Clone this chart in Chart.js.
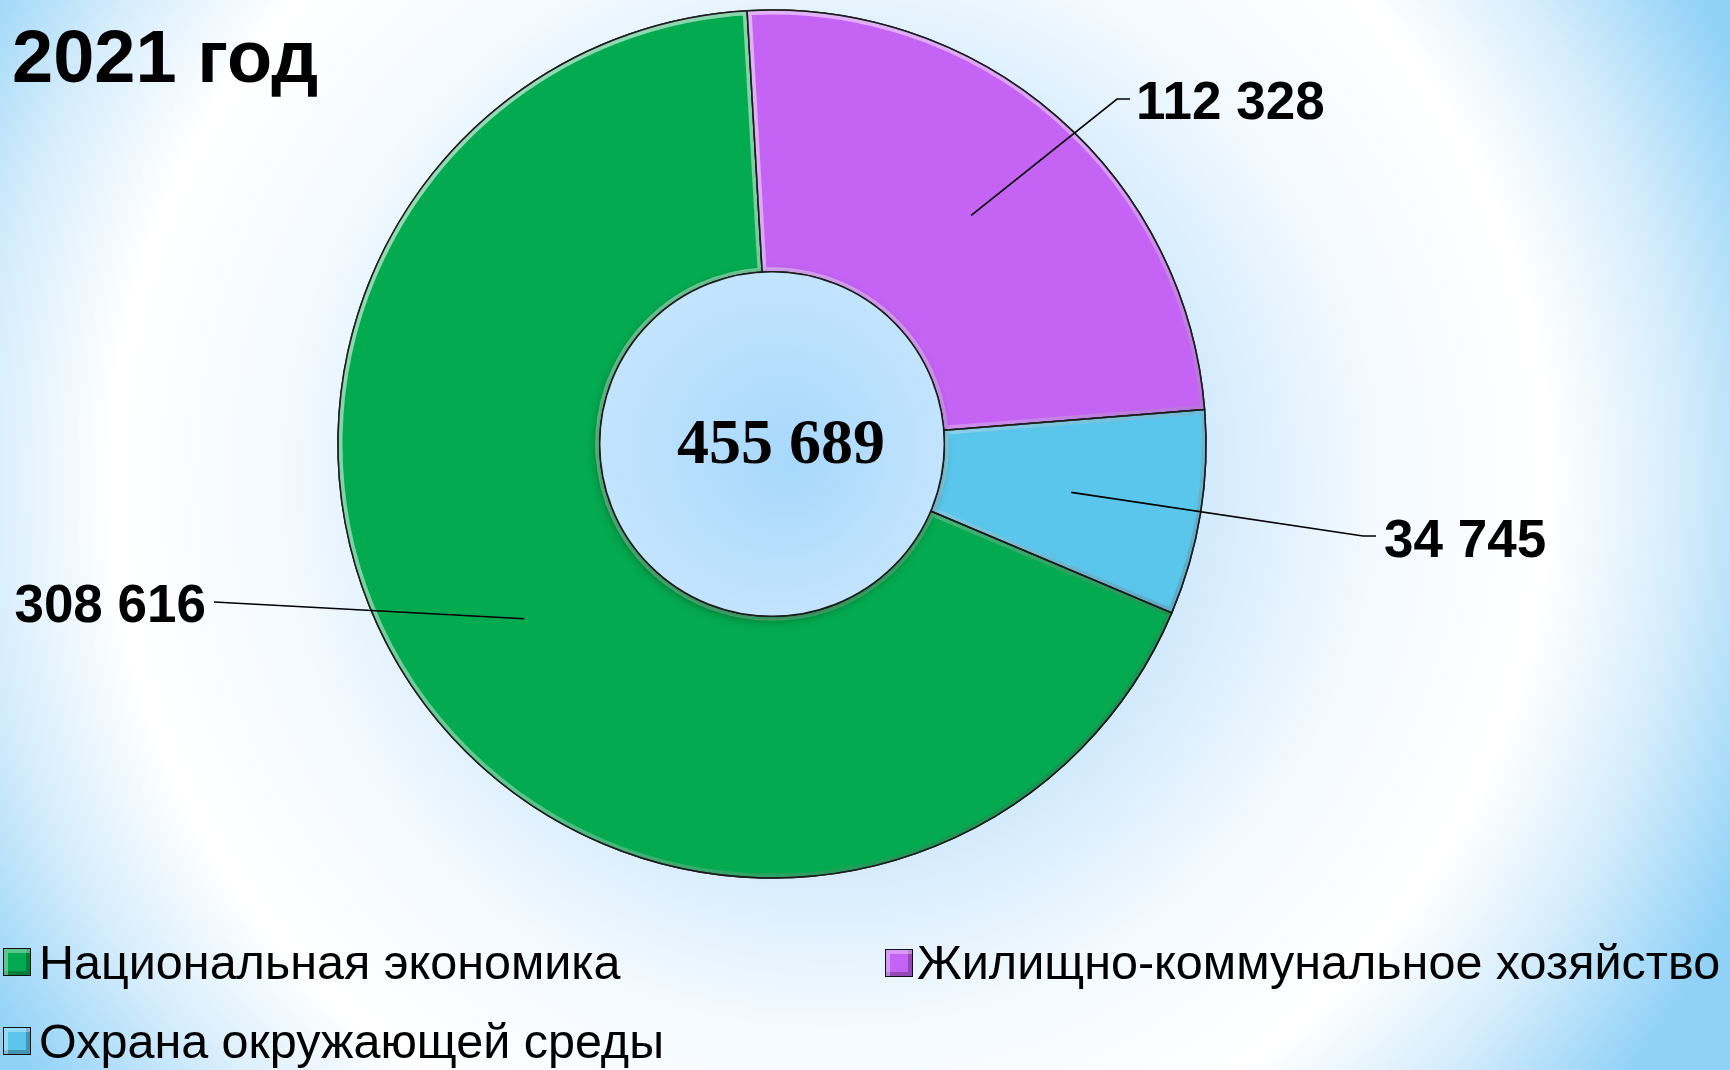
<!DOCTYPE html>
<html lang="ru">
<head>
<meta charset="utf-8">
<title>2021 год</title>
<script src="https://cdn.jsdelivr.net/npm/chart.js@4.4.1/dist/chart.umd.min.js"></script>
<style>
  html, body { margin: 0; padding: 0; }
  body {
    width: 1730px; height: 1070px; overflow: hidden; position: relative;
    font-family: "Liberation Sans", Arial, sans-serif;
    background: radial-gradient(circle 1000px at 830px 480px,
      #c6e3fa 0%, #d0e9fc 36%, #f4faff 55%, #ffffff 72%, #d6edfc 85%, #8fd1f7 100%);
  }
  #title {
    position: absolute; left: 12px; top: 20px;
    font-size: 74px; line-height: 74px; font-weight: bold; white-space: nowrap;
  }
  canvas { position: absolute; left: 0; top: 0; }
  .mark {
    position: absolute; width: 26px; height: 26px; border: 1px solid #111;
    box-shadow: inset 4px 4px 0 rgba(255,255,255,.35), inset -4px -4px 0 rgba(0,0,0,.25);
  }
  .txt { position: absolute; font-size: 48.5px; line-height: 48.5px; white-space: nowrap; }
</style>
</head>
<body>
<canvas id="donut" width="1730" height="1070"></canvas>
<div id="title">2021 год</div>
<div id="legend"></div>
<script>
// ── Data ────────────────────────────────────────────────
const categories = ['Национальная экономика', 'Жилищно-коммунальное хозяйство', 'Охрана окружающей среды'];
const values     = [308616, 112328, 34745];
const colors     = ['#03aa4f', '#c463f4', '#5bc6ec'];

// label / legend placement (layout only)
const labelAt = [
  { elbow: [214, 602], end: [214, 602], tx: 206, ty: 622, align: 'right' },
  { elbow: [1117, 99], end: [1130, 99], tx: 1136, ty: 119, align: 'left' },
  { elbow: [1363, 536], end: [1376, 536], tx: 1384, ty: 557, align: 'left' },
];
const legendAt = [
  { mx: 3,   my: 948, tx: 39,  ty: 938 },
  { mx: 885, my: 949, tx: 917, ty: 938 },
  { mx: 3,   my: 1027, tx: 39, ty: 1017 },
];

const fmt = v => String(v).replace(/\B(?=(\d{3})+(?!\d))/g, ' ');
const total = values.reduce((a, b) => a + b, 0);

// HTML legend built from the arrays
const leg = document.getElementById('legend');
categories.forEach((c, i) => {
  const p = legendAt[i];
  const m = document.createElement('div');
  m.className = 'mark';
  m.style.left = p.mx + 'px'; m.style.top = p.my + 'px';
  m.style.background = colors[i];
  const t = document.createElement('div');
  t.className = 'txt';
  t.style.left = p.tx + 'px'; t.style.top = p.ty + 'px';
  t.textContent = c;
  leg.appendChild(m); leg.appendChild(t);
});

function arcPath(ctx, a) {
  ctx.beginPath();
  ctx.arc(a.x, a.y, a.outerRadius, a.startAngle, a.endAngle);
  ctx.arc(a.x, a.y, a.innerRadius, a.endAngle, a.startAngle, true);
  ctx.closePath();
}

// bevel, hole, centre total, leader labels
const decor = {
  id: 'decor',
  afterDatasetsDraw(chart) {
    const ctx = chart.ctx;
    const arcs = chart.getDatasetMeta(0).data;
    const a0 = arcs[0];
    const cx = a0.x, cy = a0.y, R = a0.outerRadius, r = a0.innerRadius;

    // soft bevel on each slice
    arcs.forEach(a => {
      ctx.save();
      arcPath(ctx, a);
      ctx.clip();
      const g = ctx.createLinearGradient(cx - R, cy - R, cx + R, cy + R);
      g.addColorStop(0, 'rgba(255,255,255,0.65)');
      g.addColorStop(0.55, 'rgba(255,255,255,0.35)');
      g.addColorStop(1, 'rgba(0,0,0,0.22)');
      ctx.strokeStyle = g;
      ctx.lineWidth = 9;
      ctx.lineJoin = 'round';
      arcPath(ctx, a);
      ctx.stroke();
      ctx.restore();
      ctx.save();
      ctx.strokeStyle = '#1c1c1c';
      ctx.lineWidth = 1.5;
      arcPath(ctx, a);
      ctx.stroke();
      ctx.restore();
    });

    // hole
    ctx.save();
    ctx.shadowColor = 'rgba(0,30,0,0.5)';
    ctx.shadowBlur = 12;
    ctx.shadowOffsetX = -2;
    ctx.shadowOffsetY = 3;
    const hg = ctx.createRadialGradient(cx + 20, cy + 20, 0, cx, cy, r);
    hg.addColorStop(0, '#a7d8fb');
    hg.addColorStop(1, '#c3e4fd');
    ctx.fillStyle = hg;
    ctx.beginPath();
    ctx.arc(cx, cy, r, 0, Math.PI * 2);
    ctx.fill();
    ctx.restore();
    ctx.save();
    ctx.strokeStyle = '#1c1c1c';
    ctx.lineWidth = 1.5;
    ctx.beginPath();
    ctx.arc(cx, cy, r, 0, Math.PI * 2);
    ctx.stroke();

    ctx.fillStyle = '#000';
    ctx.textAlign = 'center';
    ctx.textBaseline = 'alphabetic';
    ctx.font = 'bold 64px "Liberation Serif", "Times New Roman", serif';
    ctx.fillText(fmt(total), cx + 9, cy + 19);

    // leader lines and value labels
    ctx.font = 'bold 53px "Liberation Sans", Arial, sans-serif';
    ctx.lineWidth = 1.6;
    ctx.strokeStyle = '#000';
    arcs.forEach((a, i) => {
      const p = a.getCenterPoint();
      const L = labelAt[i];
      ctx.beginPath();
      ctx.moveTo(p.x, p.y);
      ctx.lineTo(L.elbow[0], L.elbow[1]);
      ctx.lineTo(L.end[0], L.end[1]);
      ctx.stroke();
      ctx.textAlign = L.align;
      ctx.fillText(fmt(values[i]), L.tx, L.ty);
    });
    ctx.restore();
  }
};

new Chart(document.getElementById('donut'), {
  type: 'doughnut',
  data: {
    labels: categories,
    datasets: [{
      data: values,
      backgroundColor: colors,
      borderColor: '#1c1c1c',
      borderWidth: 1.5,
    }]
  },
  options: {
    responsive: false,
    animation: false,
    rotation: 112.9,
    radius: 434,
    cutout: '39.7%',
    layout: { padding: { left: 0, top: 0, right: 186, bottom: 182 } },
    plugins: {
      legend: { display: false },
      tooltip: { enabled: false }
    }
  },
  plugins: [decor]
});
</script>
</body>
</html>
